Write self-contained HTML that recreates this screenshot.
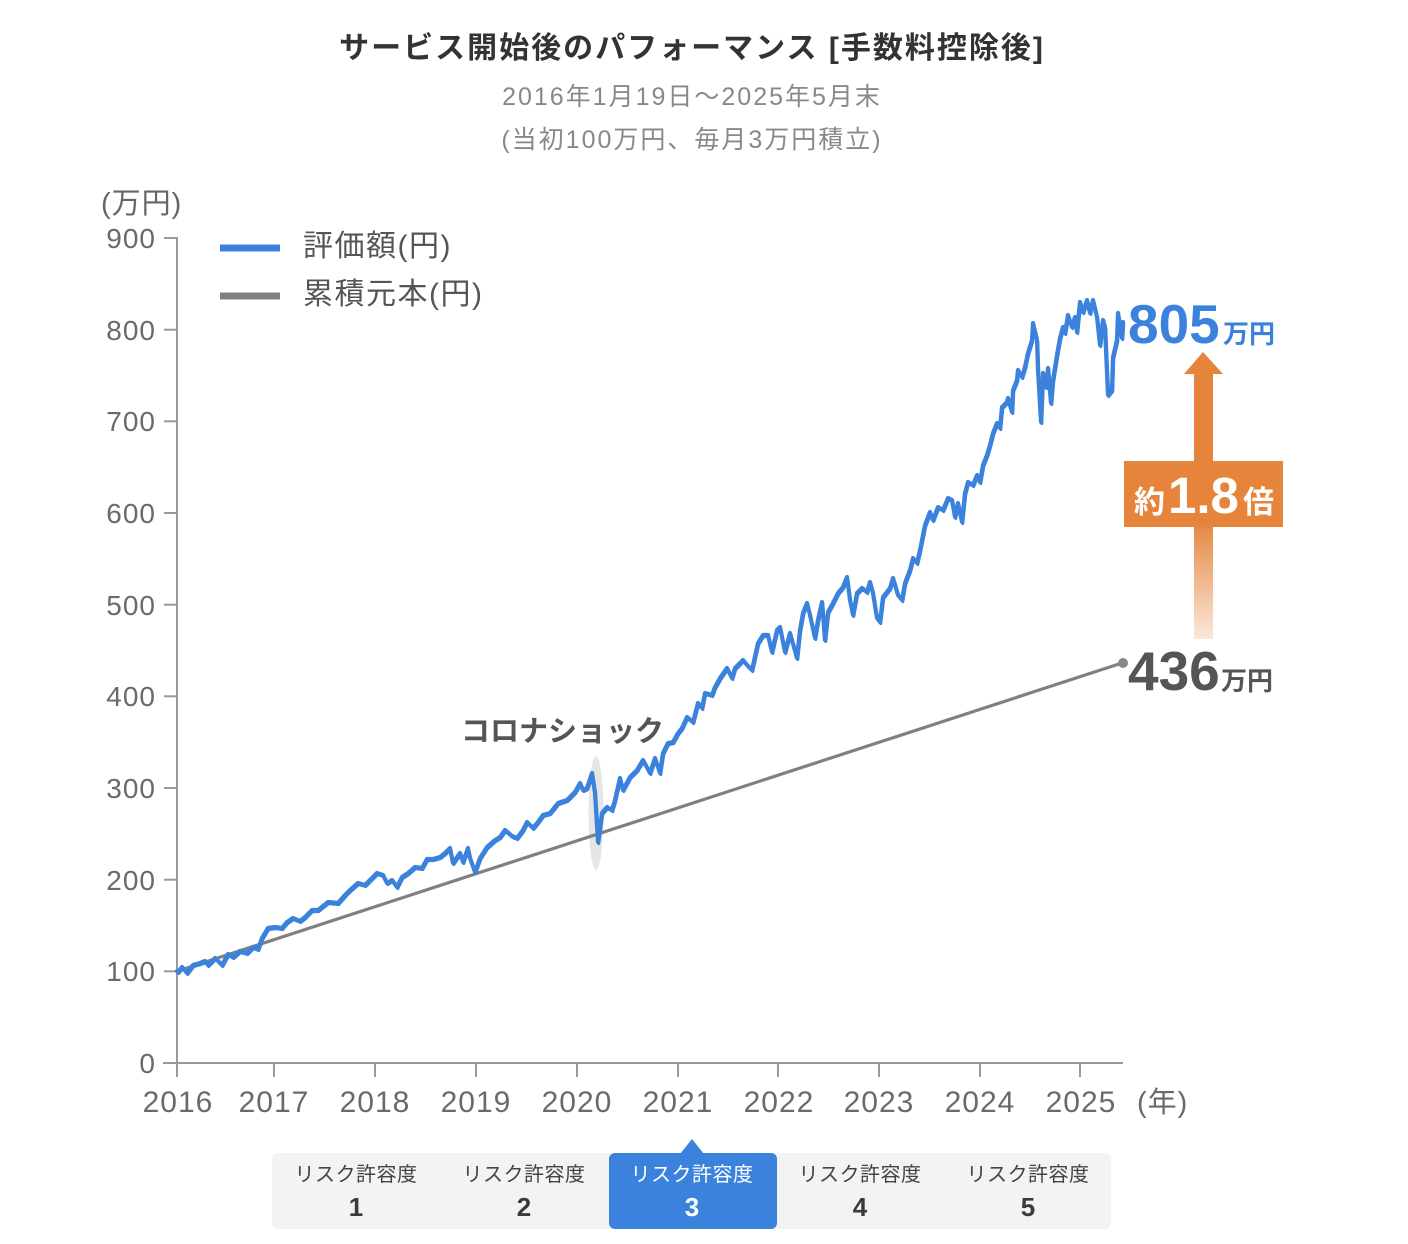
<!DOCTYPE html>
<html><head><meta charset="utf-8">
<style>
html,body{margin:0;padding:0;background:#fff;}
svg{display:block;}
text{font-family:"Liberation Sans","Noto Sans CJK JP",sans-serif;}
</style></head>
<body>
<svg width="1408" height="1244" viewBox="0 0 1408 1244" xmlns="http://www.w3.org/2000/svg">
<defs>
<linearGradient id="ag" x1="0" y1="0" x2="0" y2="1">
<stop offset="0" stop-color="#e68a48"/>
<stop offset="1" stop-color="#fbe8da"/>
</linearGradient>
</defs>
<rect width="1408" height="1244" fill="#fff"/>

<!-- Title -->
<text x="692" y="58" text-anchor="middle" font-size="30" font-weight="bold" fill="#333" letter-spacing="2">サービス開始後のパフォーマンス [手数料控除後]</text>
<text x="692" y="105" text-anchor="middle" font-size="25" fill="#888" letter-spacing="2">2016年1月19日〜2025年5月末</text>
<text x="692" y="148" text-anchor="middle" font-size="25" fill="#888" letter-spacing="2">(当初100万円、毎月3万円積立)</text>

<!-- y unit -->
<text x="101" y="213" font-size="29" fill="#666" letter-spacing="1">(万円)</text>

<!-- axes -->
<g stroke="#9a9a9a" stroke-width="2" fill="none">
<line x1="177" y1="237" x2="177" y2="1064"/>
<line x1="163" y1="1063" x2="1123" y2="1063"/>
<line x1="164" y1="238" x2="177" y2="238"/>
<line x1="164" y1="329.7" x2="177" y2="329.7"/>
<line x1="164" y1="421.3" x2="177" y2="421.3"/>
<line x1="164" y1="513" x2="177" y2="513"/>
<line x1="164" y1="604.7" x2="177" y2="604.7"/>
<line x1="164" y1="696.3" x2="177" y2="696.3"/>
<line x1="164" y1="788" x2="177" y2="788"/>
<line x1="164" y1="879.7" x2="177" y2="879.7"/>
<line x1="164" y1="971.3" x2="177" y2="971.3"/>
<line x1="177" y1="1063" x2="177" y2="1077"/>
<line x1="274" y1="1063" x2="274" y2="1077"/>
<line x1="375" y1="1063" x2="375" y2="1077"/>
<line x1="476" y1="1063" x2="476" y2="1077"/>
<line x1="577" y1="1063" x2="577" y2="1077"/>
<line x1="678" y1="1063" x2="678" y2="1077"/>
<line x1="778" y1="1063" x2="778" y2="1077"/>
<line x1="879" y1="1063" x2="879" y2="1077"/>
<line x1="980" y1="1063" x2="980" y2="1077"/>
<line x1="1080" y1="1063" x2="1080" y2="1077"/>
</g>

<!-- y labels -->
<g font-size="28" fill="#6a6a6a" text-anchor="end" letter-spacing="1">
<text x="156" y="248">900</text>
<text x="156" y="340">800</text>
<text x="156" y="431">700</text>
<text x="156" y="523">600</text>
<text x="156" y="615">500</text>
<text x="156" y="706">400</text>
<text x="156" y="798">300</text>
<text x="156" y="890">200</text>
<text x="156" y="981">100</text>
<text x="156" y="1073">0</text>
</g>

<!-- x labels -->
<g font-size="30" fill="#6a6a6a" text-anchor="middle" letter-spacing="1">
<text x="178" y="1112">2016</text>
<text x="274" y="1112">2017</text>
<text x="375" y="1112">2018</text>
<text x="476" y="1112">2019</text>
<text x="577" y="1112">2020</text>
<text x="678" y="1112">2021</text>
<text x="779" y="1112">2022</text>
<text x="879" y="1112">2023</text>
<text x="980" y="1112">2024</text>
<text x="1081" y="1112">2025</text>
</g>
<text x="1137" y="1112" font-size="29" fill="#6a6a6a" letter-spacing="1">(年)</text>

<!-- legend -->
<line x1="220" y1="248" x2="280" y2="248" stroke="#3b82dc" stroke-width="7"/>
<line x1="220" y1="296" x2="280" y2="296" stroke="#808080" stroke-width="7"/>
<text x="303" y="256" font-size="30" fill="#555" letter-spacing="1.5">評価額(円)</text>
<text x="303" y="304" font-size="30" fill="#555" letter-spacing="1.5">累積元本(円)</text>

<!-- corona highlight -->
<ellipse cx="596" cy="813" rx="7.5" ry="57" fill="#e6e6e6"/>
<text x="461" y="741" font-size="29" font-weight="bold" fill="#555">コロナショック</text>

<!-- principal line -->
<line x1="177" y1="971.3" x2="1122" y2="663" stroke="#808080" stroke-width="3.2"/>
<circle cx="1123" cy="663" r="5" fill="#888"/>

<!-- value line -->
<g fill="none" stroke="#3b82dc" stroke-width="4.2" stroke-linejoin="round" stroke-linecap="round">
<polyline id="vl" points="177,971 178,972 182,967 187,973 193,965 200,963 205,961 208,965 215,958 222,965 228,954 233,957 240,951 247,953 253,947 258,949 262,938 268,928 275,927 282,928 287,922 293,918 300,921 305,917 312,910 318,910 328,902 338,903 345,895 350,890 358,883 365,885 372,878 377,873 383,875 387,883 392,880 397,887 402,877 408,873 415,867 422,868 427,859 433,859 440,857 445,853 450,848 453,863 460,853 463,862 468,848 470,858 475,872 480,858 487,847 495,840 500,837 505,830 512,836 517,838 523,830 527,822 533,828 538,822 543,815 550,813 558,803 567,800 575,792 580,783 583,790 587,788 592,773 595,793 598,842 602,813 607,807 612,810 615,800 620,778 623,790 630,777 637,770 643,760 650,773 655,758 660,773 663,753 668,743 673,742 678,733 682,728 687,717 693,722 698,703 702,708 705,693 712,695 715,687 720,678 727,668 732,678 735,668 743,660 747,665 752,670 758,643 763,635 768,635 772,652 777,630 780,627 785,652 790,633 797,658 800,630 803,613 807,603 810,615 815,638 818,620 822,602 825,640 828,612 833,603 838,593 843,587 847,577 850,600 853,615 857,593 862,588 867,592 870,582 873,593 877,618 880,622 883,597 890,588 893,578 898,595 902,600 905,583 910,570 913,558 917,563 920,550 925,525 930,512 933,520 938,507 943,510 948,498 952,500 955,517 958,503 962,522 965,493 968,482 973,485 977,475 980,482 983,465 987,455 990,445 993,433 997,423 1000,428 1002,407 1007,402 1008,398 1012,412 1013,390 1017,380 1018,370 1022,377 1025,367 1028,353 1032,340 1033,323 1037,340 1038,370 1041,422 1043,373 1046,387 1048,368 1051,403 1053,380 1057,355 1060,338 1063,327 1065,333 1068,315 1072,327 1075,317 1077,332 1080,302 1083,312 1087,300 1090,313 1093,300 1097,317 1100,345 1103,320 1105,327 1107,373 1108,395 1112,390 1113,357 1117,340 1118,313 1122,338 1123,322"/>
<use href="#vl" transform="translate(0.8,1.6)" stroke-width="3"/>
</g>

<!-- arrow -->
<rect x="1194" y="527" width="19" height="112" fill="url(#ag)"/>
<rect x="1194" y="372" width="19" height="90" fill="#e5843a"/>
<polygon points="1203,352 1184,374 1223,374" fill="#e5843a"/>
<rect x="1124" y="461" width="159" height="66" fill="#e5843a"/>
<text x="1134" y="513" font-size="31" font-weight="bold" fill="#fff">約</text>
<text x="1168" y="513" font-size="51" font-weight="bold" fill="#fff">1.8</text>
<text x="1243" y="513" font-size="31" font-weight="bold" fill="#fff">倍</text>

<!-- end labels -->
<text x="1128" y="343" font-size="55" font-weight="bold" fill="#3b82dc">805</text>
<text x="1223" y="343" font-size="26" font-weight="bold" fill="#3b82dc">万円</text>
<text x="1128" y="690" font-size="55" font-weight="bold" fill="#555">436</text>
<text x="1221" y="690" font-size="26" font-weight="bold" fill="#555">万円</text>

<!-- tabs -->
<rect x="272" y="1153" width="839" height="76" rx="6" fill="#f3f3f2"/>
<rect x="609" y="1153" width="168" height="76" rx="6" fill="#3b82dc"/>
<polygon points="680,1154 704,1154 692,1139" fill="#3b82dc"/>
<g font-size="20" text-anchor="middle" letter-spacing="0.5">
<text x="356" y="1181" fill="#444">リスク許容度</text>
<text x="524" y="1181" fill="#444">リスク許容度</text>
<text x="692" y="1181" fill="#fff">リスク許容度</text>
<text x="860" y="1181" fill="#444">リスク許容度</text>
<text x="1028" y="1181" fill="#444">リスク許容度</text>
</g>
<g font-size="26" text-anchor="middle" font-weight="bold">
<text x="356" y="1216" fill="#3a3a3a">1</text>
<text x="524" y="1216" fill="#3a3a3a">2</text>
<text x="692" y="1216" fill="#fff">3</text>
<text x="860" y="1216" fill="#3a3a3a">4</text>
<text x="1028" y="1216" fill="#3a3a3a">5</text>
</g>
</svg>
</body></html>
